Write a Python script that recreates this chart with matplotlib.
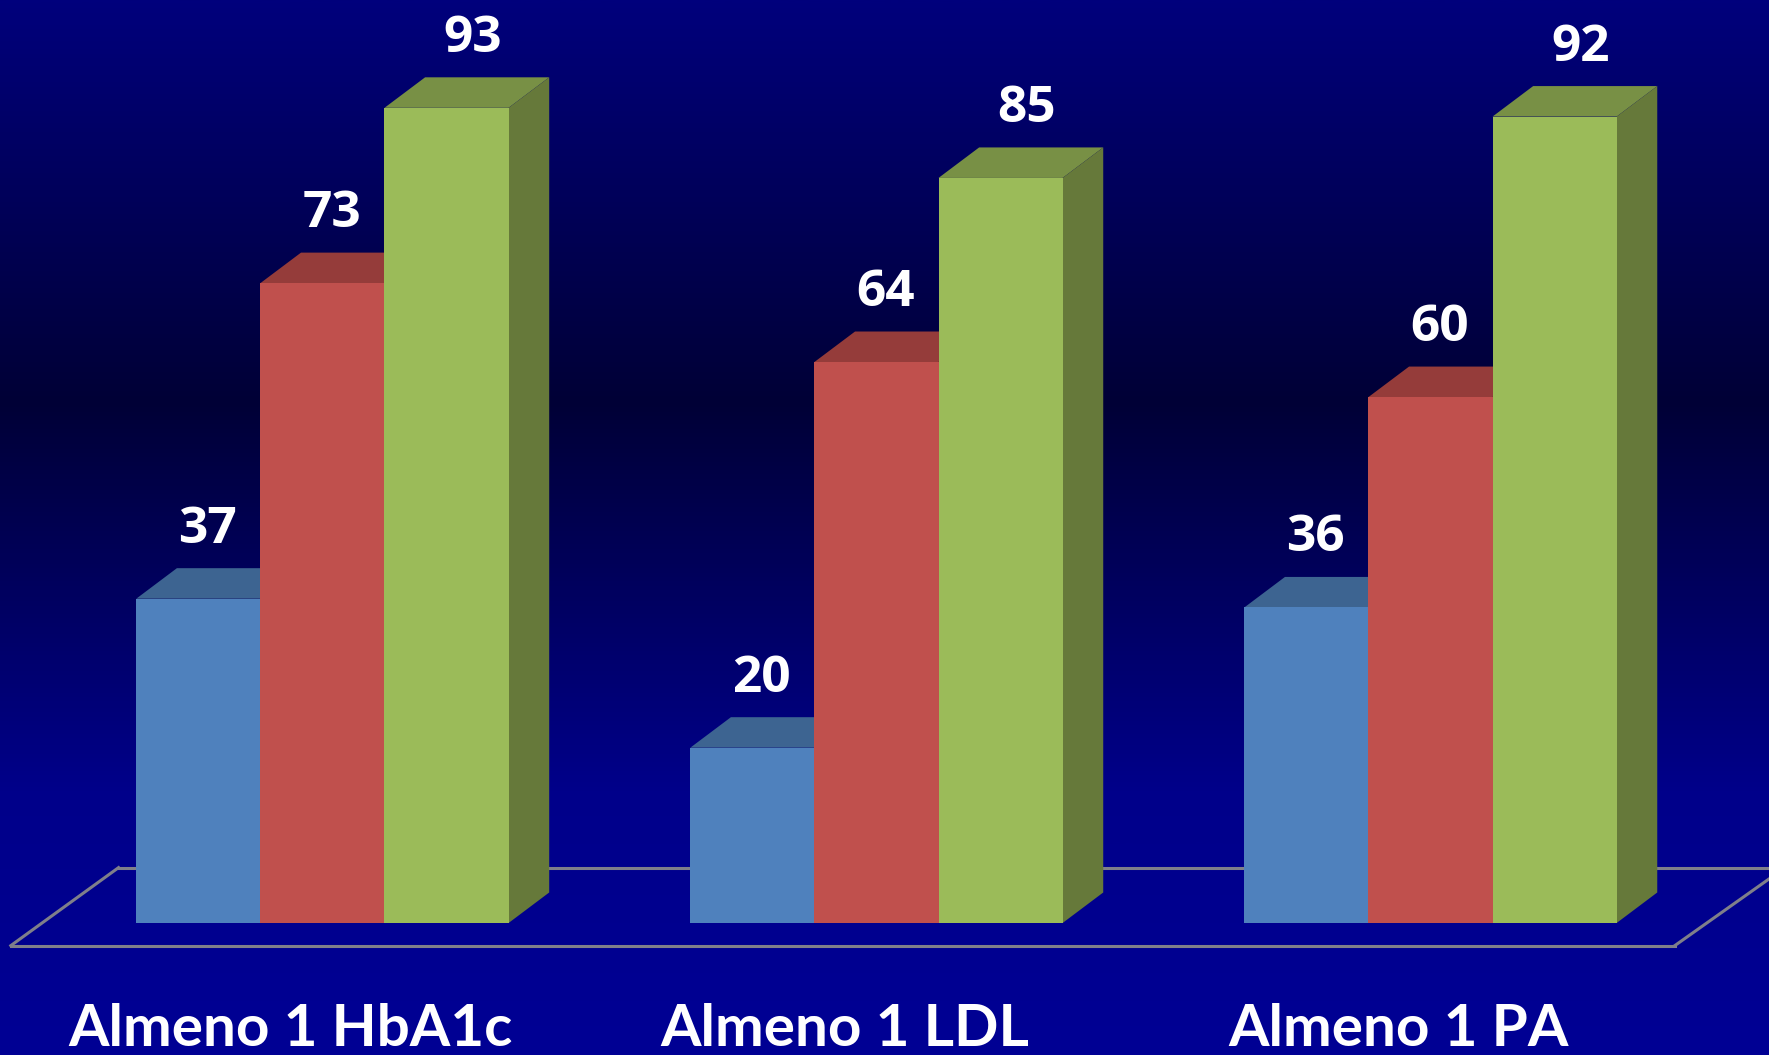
import numpy as np
import matplotlib.pyplot as plt
from matplotlib.patches import Polygon
from matplotlib.colors import LinearSegmentedColormap

categories = ["Almeno 1 HbA1c", "Almeno 1 LDL", "Almeno 1 PA"]
serie_a = [37, 20, 36]
serie_b = [73, 64, 60]
serie_c = [93, 85, 92]

series = [serie_a, serie_b, serie_c]
front_cols = ["#4F81BD", "#C0504D", "#9BBB59"]
top_cols = ["#3D6491", "#953C3A", "#789045"]
side_cols = ["#34557C", "#7F3230", "#66793A"]
label_shift = [0.017, 0.017, 0.047]

W, H = 1769, 1055
fig = plt.figure(figsize=(W / 100, H / 100), dpi=100)

# background gradient
bg = fig.add_axes([0, 0, 1, 1])
grad = LinearSegmentedColormap.from_list(
    "bg", [(0.0, "#00007C"), (0.38, "#000036"), (0.75, "#00008A"), (1.0, "#000094")])
bg.imshow(np.linspace(0, 1, 512).reshape(-1, 1), aspect="auto", cmap=grad,
          extent=[0, 1, 0, 1], origin="upper")
bg.axis("off")

ax = fig.add_axes([0, 0, 1, 1])
ax.set_facecolor("none")
ax.set_xlim(-0.582, 2.611)
ax.set_ylim(-15.06, 105.3)
ax.axis("off")

x = np.arange(len(categories))
bw = 0.224
dx, dy = 0.0733, 3.48

# floor outline
floor_col = "#7F7F8A"
ax.plot([-0.5625, 2.441], [-2.58, -2.58], color=floor_col, lw=2.2, zorder=1)
ax.plot([-0.5625, -0.368], [-2.58, 6.32], color=floor_col, lw=2.2, zorder=1)
ax.plot([2.441, 2.64], [-2.58, 6.32], color=floor_col, lw=2.2, zorder=1)
ax.plot([-0.368, 2.64], [6.32, 6.32], color=floor_col, lw=2.2, zorder=1)

for i, vals in enumerate(series):
    lefts = x - 1.5 * bw + i * bw
    for x0, h in zip(lefts, vals):
        x1 = x0 + bw
        z = 2 + i
        ax.add_patch(Polygon([(x0, h), (x1, h), (x1 + dx, h + dy), (x0 + dx, h + dy)],
                             closed=True, fc=top_cols[i], ec="none", zorder=z))
        ax.add_patch(Polygon([(x1, 0), (x1, h), (x1 + dx, h + dy), (x1 + dx, dy)],
                             closed=True, fc=side_cols[i], ec="none", zorder=z))
        ax.text(x0 + bw / 2 + label_shift[i], h + dy + 4.4, f"{h}", ha="center", va="center",
                color="white", fontsize=37, fontweight="bold", family="Open Sans", zorder=10)
    ax.bar(lefts, vals, width=bw, align="edge", color=front_cols[i],
           edgecolor="none", zorder=2 + i + 0.5)

for xi, name in zip(x, categories):
    ax.text(xi - 0.058, -14.0, name, ha="center", va="baseline", color="white",
            fontsize=42, fontweight="bold", family="Lato", zorder=10)

fig.savefig("out.png", dpi=100)
